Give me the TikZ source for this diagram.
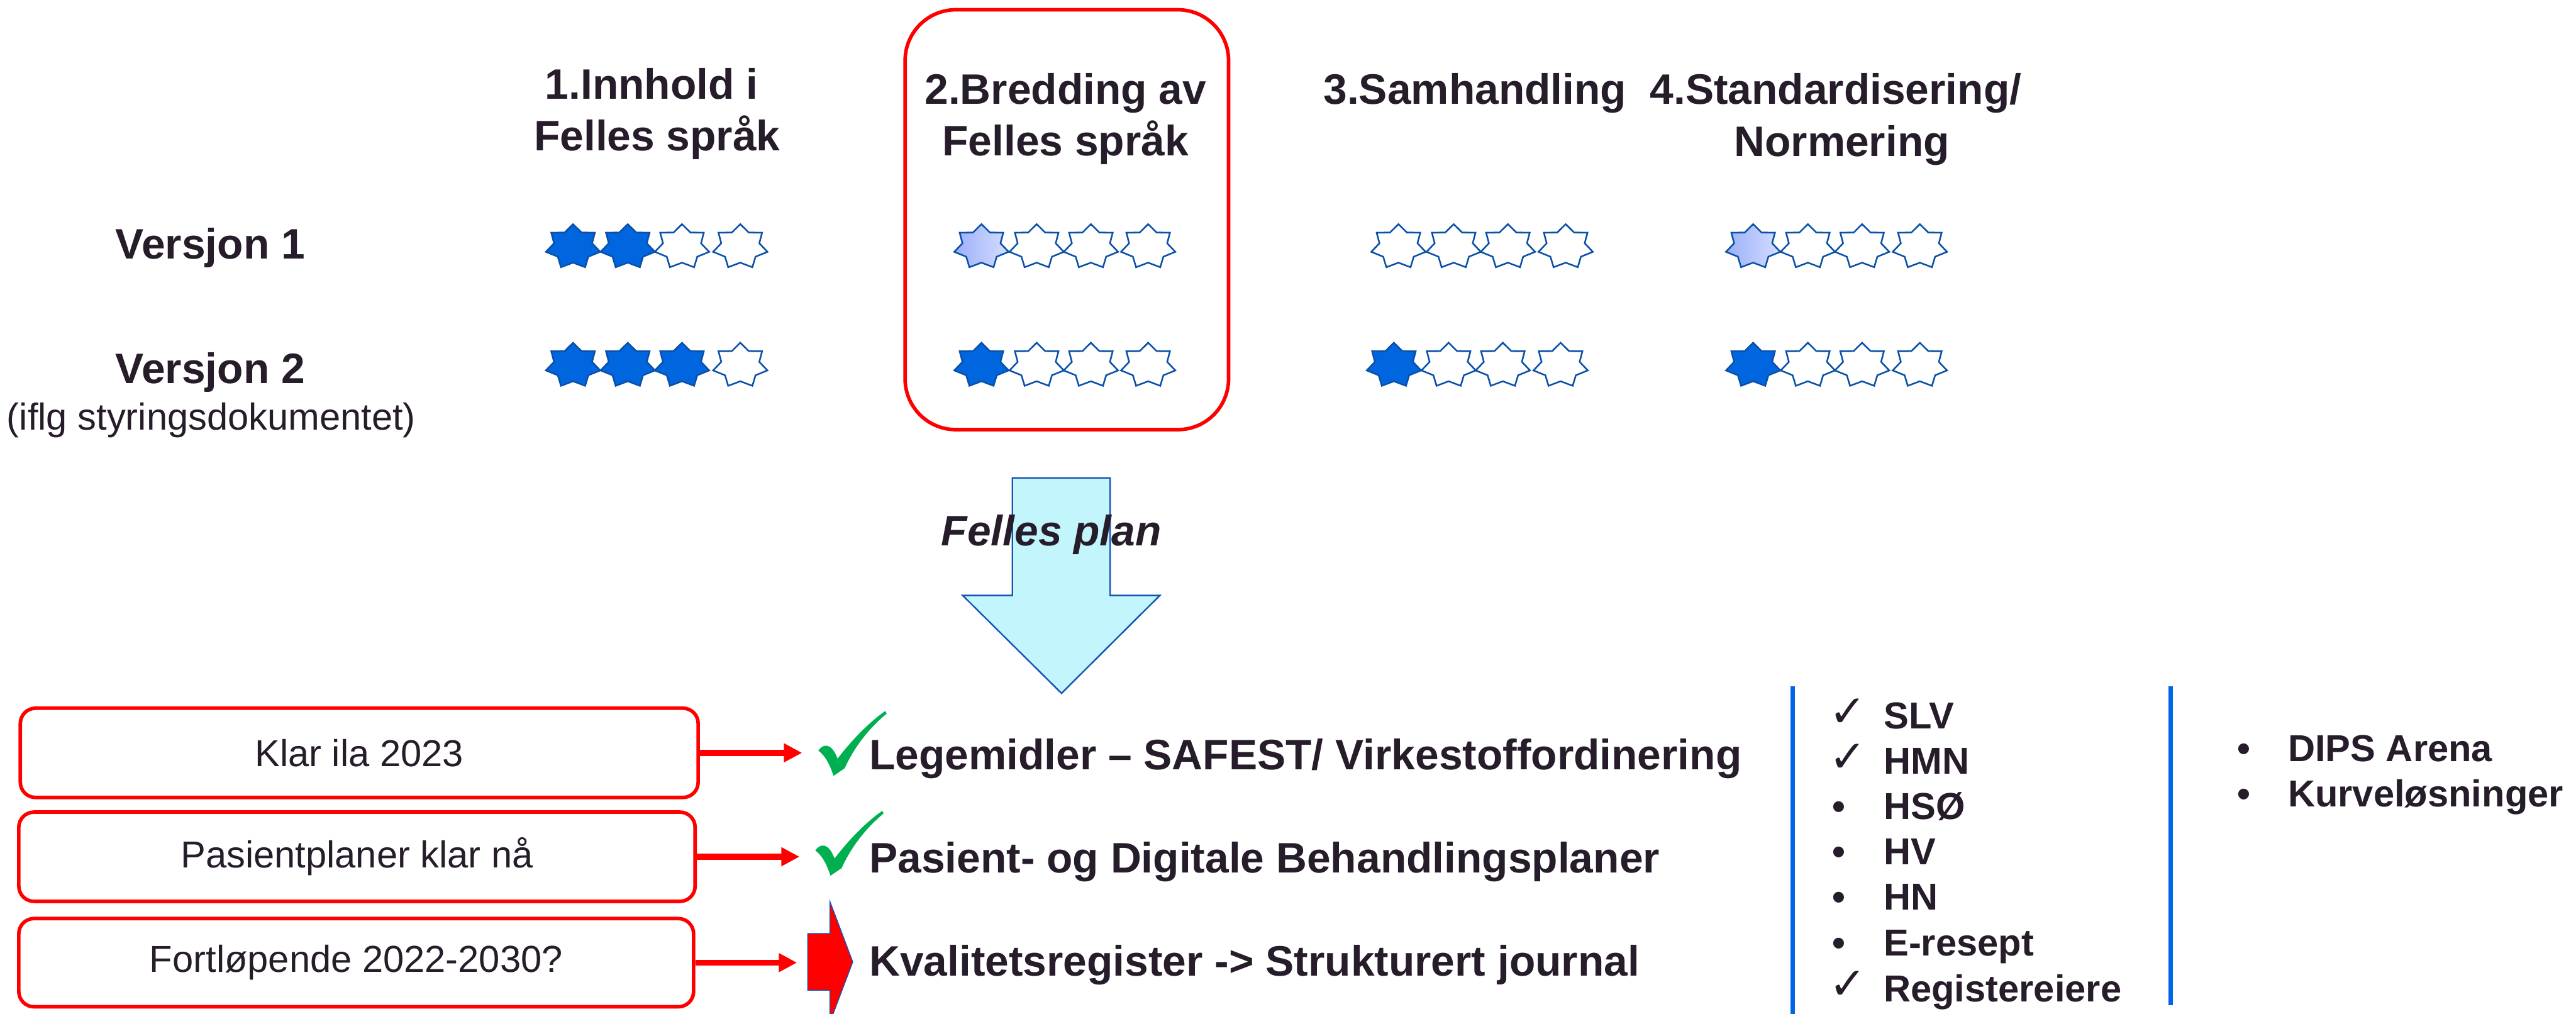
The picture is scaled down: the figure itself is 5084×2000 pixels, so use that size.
\documentclass[tikz,border=0pt]{standalone}
\usepackage{fontspec}
\setmainfont{Liberation Sans}
\newfontfamily\djv{DejaVu Sans}
\usetikzlibrary{arrows.meta}
\definecolor{txt}{RGB}{38,28,42}
\definecolor{starblue}{RGB}{0,102,224}
\definecolor{staredge}{RGB}{10,80,168}
\definecolor{lightA}{RGB}{155,175,248}
\definecolor{lightB}{RGB}{212,222,255}
\definecolor{cyanfill}{RGB}{194,246,252}
\definecolor{arrowedge}{RGB}{20,85,180}
\definecolor{okgreen}{RGB}{0,176,80}
\definecolor{pptred}{RGB}{255,0,0}
\definecolor{sepblue}{RGB}{0,102,230}
\newcommand{\fbig}{\fontsize{23.9pt}{28pt}\selectfont}
\newcommand{\fsmall}{\fontsize{21.06pt}{25pt}\selectfont}
\newcommand{\sevenstar}[3]{%
  \path[starline,#3] plot[variable=\k, samples at={0,...,13}]
   ({#1+(1-0.3*mod(\k,2))*55*sin(\k*360/14)}, {#2-(1-0.3*mod(\k,2))*44.7*cos(\k*360/14)}) -- cycle;}
\newcommand{\greencheck}[2]{%
  \begin{scope}[shift={(#1,#2)}]
    \fill[okgreen] (1615,1481) .. controls (1625,1467) and (1641,1465) .. (1653,1497)
      .. controls (1680,1462) and (1712,1428) .. (1747,1403) -- (1750,1408)
      .. controls (1715,1437) and (1686,1474) .. (1667,1516) -- (1645,1531)
      .. controls (1639,1512) and (1630,1492) .. cycle;
  \end{scope}}
\tikzset{
  hdr/.style={font=\fbig\bfseries, text=txt, anchor=base, inner sep=0pt},
  note/.style={font=\fsmall, text=txt, anchor=base, inner sep=0pt},
  item/.style={font=\fbig\bfseries, text=txt, anchor=base west, inner sep=0pt},
  listitem/.style={font=\fsmall\bfseries, text=txt, anchor=base west, inner sep=0pt},
  bul/.style={font=\fsmall\bfseries, text=txt, anchor=base, inner sep=0pt},
  chk/.style={font=\djv\fontsize{25pt}{27pt}\selectfont, text=txt, anchor=center, inner sep=0pt},
  datebox/.style={draw=pptred, line width=2pt, rounded corners=0.3cm, font=\fsmall, text=txt, inner sep=0pt},
  focusbox/.style={draw=pptred, line width=2pt, rounded corners=1cm, inner sep=0pt},
  redarrow/.style={draw=pptred, line width=3.3pt, -{Triangle[length=10.2pt,width=10pt]}},
  starline/.style={draw=staredge, line width=0.9pt, line join=miter},
  sepline/.style={draw=sepblue, line width=2.8pt},
}
\begin{document}
\begin{tikzpicture}[x=0.01cm, y=-0.01cm]
\useasboundingbox (0,0) rectangle (5084,2000);
% headers
\node[hdr] (h1a) at (1286,195) {1.Innhold i};
\node[hdr] (h1b) at (1297,297) {Felles språk};
\node[hdr] (h2a) at (2103,205) {2.Bredding av};
\node[hdr] (h2b) at (2103,307) {Felles språk};
\node[hdr] (h3) at (2911,205) {3.Samhandling};
\node[hdr] (h4a) at (3623,205) {4.Standardisering/};
\node[hdr] (h4b) at (3635,308) {Normering};
% focus frame
\node[focusbox, minimum width=6.38cm, minimum height=8.28cm] (focus) at (2105.5,433.5) {};
% row labels
\node[hdr] (v1) at (415,511) {Versjon 1};
\node[hdr] (v2) at (415,757) {Versjon 2};
\node[note] (v2n) at (417,848) {(iflg styringsdokumentet)};
% stars row 1
\sevenstar{1131}{487}{fill=starblue}
\sevenstar{1239}{487}{fill=starblue}
\sevenstar{1346}{487}{fill=white}
\sevenstar{1461}{487}{fill=white}
\sevenstar{1937}{487}{left color=lightA, right color=lightB}
\sevenstar{2046}{487}{fill=white}
\sevenstar{2153}{487}{fill=white}
\sevenstar{2266}{487}{fill=white}
\sevenstar{2760}{487}{fill=white}
\sevenstar{2869}{487}{fill=white}
\sevenstar{2976}{487}{fill=white}
\sevenstar{3090}{487}{fill=white}
\sevenstar{3460}{487}{left color=lightA, right color=lightB}
\sevenstar{3568}{487}{fill=white}
\sevenstar{3675}{487}{fill=white}
\sevenstar{3789}{487}{fill=white}
% stars row 2
\sevenstar{1131}{721}{fill=starblue}
\sevenstar{1239}{721}{fill=starblue}
\sevenstar{1346}{721}{fill=starblue}
\sevenstar{1461}{721}{fill=white}
\sevenstar{1937}{721}{fill=starblue}
\sevenstar{2046}{721}{fill=white}
\sevenstar{2153}{721}{fill=white}
\sevenstar{2266}{721}{fill=white}
\sevenstar{2751}{721}{fill=starblue}
\sevenstar{2859}{721}{fill=white}
\sevenstar{2966}{721}{fill=white}
\sevenstar{3080}{721}{fill=white}
\sevenstar{3460}{721}{fill=starblue}
\sevenstar{3568}{721}{fill=white}
\sevenstar{3675}{721}{fill=white}
\sevenstar{3789}{721}{fill=white}
% down arrow
\filldraw[fill=cyanfill, draw=arrowedge, line width=0.85pt, line join=miter]
  (1998,943) -- (2191,943) -- (2191,1175) -- (2289,1175) -- (2095,1368)
  -- (1900,1175) -- (1998,1175) -- cycle;
\node[hdr, font=\fbig\bfseries\itshape] (plan) at (2075,1077) {Felles plan};
% date boxes
\node[datebox, minimum width=13.37cm, minimum height=1.76cm] (b1) at (709,1485.5) {Klar ila 2023};
\node[datebox, minimum width=13.34cm, minimum height=1.76cm] (b2) at (704.5,1690.5) {Pasientplaner klar nå};
\node[datebox, minimum width=13.31cm, minimum height=1.74cm] (b3) at (703,1899.5) {Fortløpende 2022-2030?};
\coordinate (t1) at (1583,1485.5);
\coordinate (t2) at (1578,1690.5);
\coordinate (t3) at (1573,1899.5);
\draw[redarrow] (b1.east) -- (t1);
\draw[redarrow] (b2.east) -- (t2);
\draw[redarrow] (b3.east) -- (t3);
% status icons
\greencheck{0}{0}
\greencheck{-6}{197}
\filldraw[fill=pptred, draw=arrowedge, line width=0.5pt, line join=miter]
  (1594,1842) -- (1638,1842) -- (1638,1779) -- (1683,1898) -- (1638,2017)
  -- (1638,1954) -- (1594,1954) -- cycle;
% main items
\node[item] (L1) at (1715,1518) {Legemidler – SAFEST/ Virkestoffordinering};
\node[item] (L2) at (1715,1722) {Pasient- og Digitale Behandlingsplaner};
\node[item] (L3) at (1715,1926) {Kvalitetsregister -> Strukturert journal};
% separators
\draw[sepline] (3538,1354) -- (3538,2010);
\draw[sepline] (4284,1354) -- (4284,1983);
% list 1
\node[chk] (c1) at (3647,1406) {✓};
\node[listitem] (i1) at (3717,1438) {SLV};
\node[chk] (c2) at (3647,1496) {✓};
\node[listitem] (i2) at (3717,1527) {HMN};
\node[bul] (d3) at (3629,1617) {•};
\node[listitem] (i3) at (3717,1617) {HSØ};
\node[bul] (d4) at (3629,1706) {•};
\node[listitem] (i4) at (3717,1706) {HV};
\node[bul] (d5) at (3629,1796) {•};
\node[listitem] (i5) at (3717,1796) {HN};
\node[bul] (d6) at (3629,1886) {•};
\node[listitem] (i6) at (3717,1886) {E-resept};
\node[chk] (c7) at (3647,1944) {✓};
\node[listitem] (i7) at (3717,1976) {Registereiere};
% list 2
\node[bul] (e1) at (4429,1502) {•};
\node[listitem] (j1) at (4515,1502) {DIPS Arena};
\node[bul] (e2) at (4429,1592) {•};
\node[listitem] (j2) at (4515,1592) {Kurveløsninger};
\end{tikzpicture}
\end{document}
